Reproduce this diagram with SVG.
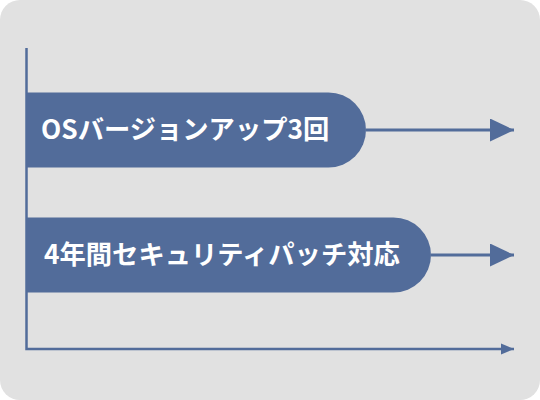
<svg xmlns="http://www.w3.org/2000/svg" width="540" height="400" viewBox="0 0 540 400">
<style>
.bar{fill:#526c9a}
.lbl{fill:#ffffff;font-family:"Noto Sans CJK JP","Noto Sans",sans-serif;font-weight:bold;font-size:26.3px}
.ln{stroke:#526c9a;stroke-width:3;fill:none}
.ax{stroke:#526c9a;stroke-width:2.5;fill:none}
</style>
<defs>
<marker id="ah" markerUnits="userSpaceOnUse" markerWidth="24" markerHeight="24" refX="24" refY="11.5" orient="auto">
<path d="M0,0 L24,11.5 L0,23 Z" fill="#526c9a"/>
</marker>
<marker id="ahs" markerUnits="userSpaceOnUse" markerWidth="13" markerHeight="12" refX="13" refY="6" orient="auto">
<path d="M0,0.5 L13,6 L0,11.5 Z" fill="#526c9a"/>
</marker>
</defs>
<rect x="0" y="0" width="540" height="400" rx="20" fill="#e1e1e1"/>
<g id="axes">
<path class="ax" d="M26.5,48 V349 H514" marker-end="url(#ahs)"/>
</g>
<g id="connectors">
<path class="ln" d="M366,130 H514" marker-end="url(#ah)"/>
<path class="ln" d="M431,255 H514" marker-end="url(#ah)"/>
</g>
<g id="node1">
<path class="bar" d="M26,92.5 H328.5 A37.5,37.5 0 0 1 328.5,167.5 H26 Z"/>
<text class="lbl" x="41" y="138.5">OSバージョンアップ3回</text>
</g>
<g id="node2">
<path class="bar" d="M26,217.5 H393.5 A37.5,37.5 0 0 1 393.5,292.5 H26 Z"/>
<text class="lbl" x="44" y="263.5">4年間セキュリティパッチ対応</text>
</g>
</svg>
